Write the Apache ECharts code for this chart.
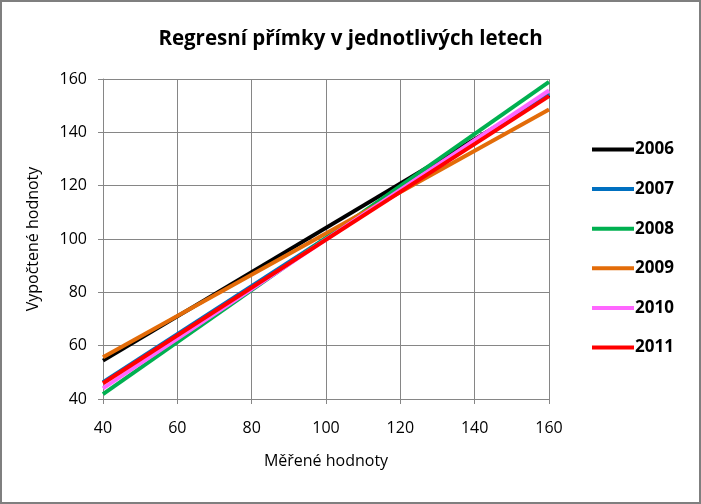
<!DOCTYPE html>
<html><head><meta charset="utf-8">
<script src="https://cdn.jsdelivr.net/npm/echarts@6/dist/echarts.min.js"></script>
<style>html,body{margin:0;padding:0;background:#fff}#c{width:701px;height:504px;box-sizing:border-box;border:2px solid #7f7f7f}</style>
</head><body><div id="c"></div>
<script>
const xValues = [40, 160];
const seriesNames = ['2006', '2007', '2008', '2009', '2010', '2011'];
const y2006 = [54.4, 154.0];
const y2007 = [46.3, 154.4];
const y2008 = [41.8, 158.9];
const y2009 = [55.7, 148.6];
const y2010 = [44.0, 155.7];
const y2011 = [45.9, 153.6];
const seriesValues = [y2006, y2007, y2008, y2009, y2010, y2011];
const colors = ['#000000', '#0070c0', '#00b050', '#e36c09', '#ff66ff', '#ff0000'];
const xTicks = [40, 60, 80, 100, 120, 140, 160];
const yTicks = [40, 60, 80, 100, 120, 140, 160];

const font = "'Open Sans', sans-serif";
const narrow = "'Liberation Sans Narrow', 'Open Sans', sans-serif";
const chart = echarts.init(document.getElementById('c'));
chart.setOption({
  animation: false,
  title: {
    text: 'Regresní přímky v jednotlivých letech',
    left: 'center', top: 22,
    textStyle: {fontFamily: font, fontSize: 20.5, fontWeight: 'bold', color: '#000'}
  },
  legend: {
    orient: 'vertical', left: 585, top: 134,
    itemWidth: 42, itemHeight: 14, itemGap: 22.6,
    icon: 'path://M0,5 L42,5 L42,9 L0,9 Z',
    textStyle: {fontFamily: narrow, fontSize: 17, fontWeight: 'bold', color: '#000', padding: [0,0,0,-4]},
    data: seriesNames
  },
  grid: {left: 101, right: 150, top: 77, bottom: 103, containLabel: false},
  xAxis: {
    type: 'value', min: xTicks[0], max: xTicks[xTicks.length-1], interval: 20,
    name: 'Měřené hodnoty', nameLocation: 'middle', nameGap: 54,
    nameTextStyle: {fontFamily: font, fontSize: 16, color: '#000'},
    axisLine: {show: true, lineStyle: {color: '#868686', width: 1}},
    axisTick: {show: true, length: 5, lineStyle: {color: '#868686'}},
    axisLabel: {fontFamily: font, fontSize: 16, color: '#000', margin: 21},
    splitLine: {show: true, lineStyle: {color: '#868686', width: 1}}
  },
  yAxis: {
    type: 'value', min: yTicks[0], max: yTicks[yTicks.length-1], interval: 20,
    name: 'Vypočtené hodnoty', nameLocation: 'middle', nameGap: 62,
    nameTextStyle: {fontFamily: font, fontSize: 16, color: '#000'},
    axisLine: {show: true, lineStyle: {color: '#868686', width: 1}},
    axisTick: {show: true, length: 5, lineStyle: {color: '#868686'}},
    axisLabel: {fontFamily: font, fontSize: 16, color: '#000', margin: 16},
    splitLine: {show: true, lineStyle: {color: '#868686', width: 1}}
  },
  series: seriesNames.map((n, i) => ({
    name: n, type: 'line', showSymbol: false, symbol: 'none',
    lineStyle: {width: 4, color: colors[i]}, itemStyle: {color: colors[i]},
    data: xValues.map((x, j) => [x, seriesValues[i][j]]),
    z: 2 + i
  }))
});
</script></body></html>
